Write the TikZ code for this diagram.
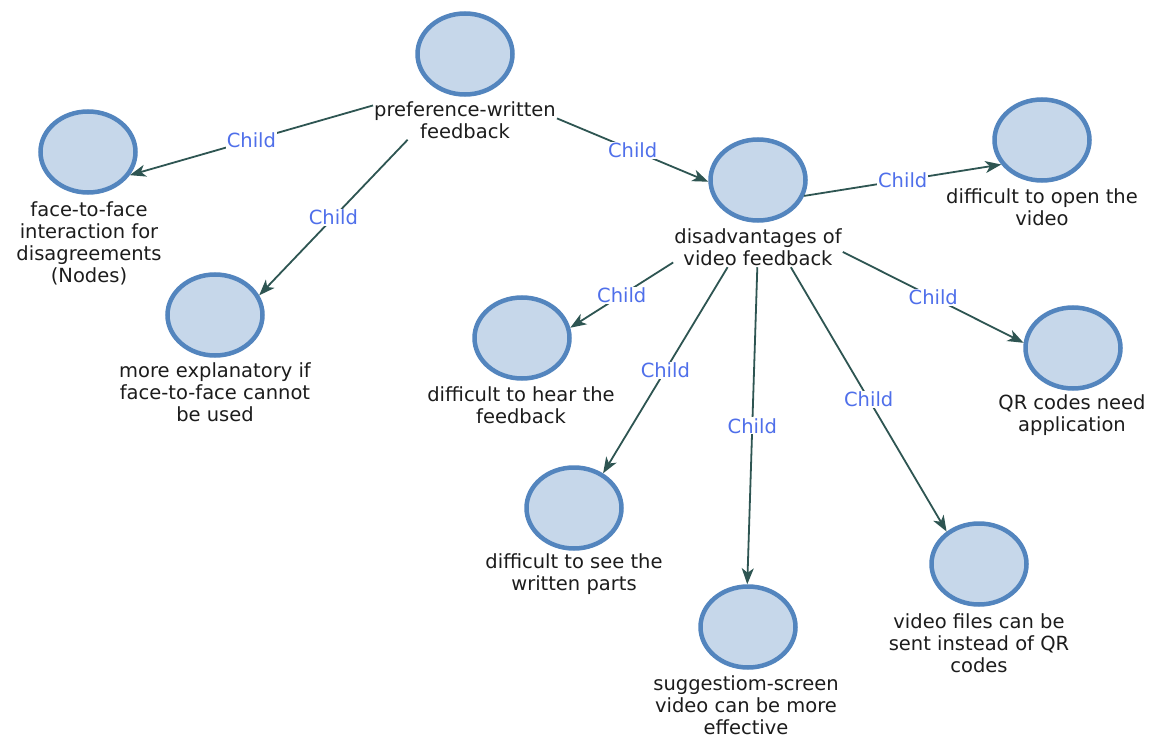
\documentclass[tikz,border=0pt]{standalone}
\usepackage{fontspec}
\setmainfont{DejaVu Sans}
\usetikzlibrary{arrows.meta,shapes.geometric}

\definecolor{ringblue}{HTML}{5385BE}
\definecolor{discfill}{HTML}{C6D7EA}
\definecolor{linkgrey}{HTML}{2E5552}
\definecolor{tagblue}{HTML}{4F6FEA}
\definecolor{captionink}{HTML}{1C1C1C}

\tikzset{
  disc/.style={ellipse, draw=ringblue, fill=discfill, line width=4.5pt,
    minimum width=95pt, minimum height=81pt, inner sep=0pt},
  caption/.style={align=center, text=captionink, inner sep=1pt,
    font=\fontsize{19.5}{22}\selectfont},
  link/.style={draw=linkgrey, line width=1.8pt,
    -{Stealth[length=16pt,width=12pt,inset=4.5pt]}},
  tag/.style={fill=white, text=tagblue, inner sep=1pt,
    font=\fontsize{19.5}{22}\selectfont, midway}
}

\begin{document}
\begin{tikzpicture}[x=1pt,y=-1pt]
\path[use as bounding box, fill=white] (0,0) rectangle (1156,738);

% concept circles
\node[disc] (c0) at (465,54) {};
\node[disc] (c1) at (88,152) {};
\node[disc] (c2) at (215,315) {};
\node[disc] (c3) at (758,180) {};
\node[disc] (c4) at (1042,140) {};
\node[disc] (c5) at (522,338) {};
\node[disc] (c6) at (1073,348) {};
\node[disc] (c7) at (574,508) {};
\node[disc] (c8) at (748,627) {};
\node[disc] (c9) at (979,564) {};

% captions
\node[caption] (t0) at (465,120) {preference-written\\feedback};
\node[caption] (t1) at (89,243) {face-to-face\\interaction for\\disagreements\\(Nodes)};
\node[caption] (t2) at (215,392) {more explanatory if\\face-to-face cannot\\be used};
\node[caption] (t3) at (758,247.5) {disadvantages of\\video feedback};
\node[caption] (t4) at (1042,207.5) {difficult to open the\\video};
\node[caption] (t5) at (521,405) {difficult to hear the\\feedback};
\node[caption] (t6) at (1072,415) {QR codes need\\application};
\node[caption] (t7) at (574,574) {difficult to see the\\written parts};
\node[caption] (t8) at (746,705.5) {suggestiom-screen\\video can be more\\effective};
\node[caption] (t9) at (979,643) {video files can be\\sent instead of QR\\codes};

% child links
\draw[link] (t0.171) -- node[tag] {Child} (c1.-29);
\draw[link] (t0.199) -- node[tag] {Child} (c2.24);
\draw[link] (t0.1) -- node[tag] {Child} (c3.182);
\draw[link] (c3.-19) -- node[tag] {Child} (c4.211);
\draw[link] (t3.190) -- node[tag] {Child} (c5.12);
\draw[link] (t3.213) -- node[tag] {Child} (c7.50);
\draw[link] (t3.268) -- node[tag] {Child} (c8.91);
\draw[link] (t3.329) -- node[tag] {Child} (c9.135);
\draw[link] (t3.357) -- node[tag] {Child} (c6.174);
\end{tikzpicture}
\end{document}
